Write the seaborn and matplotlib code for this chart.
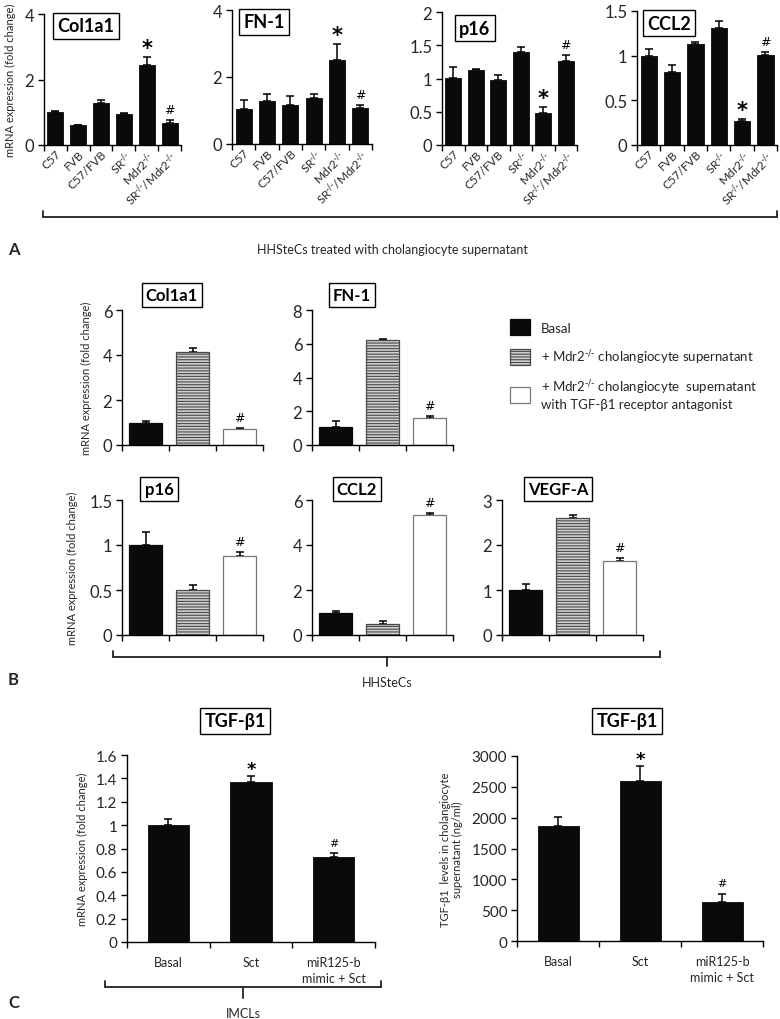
import numpy as np
import pandas as pd
import matplotlib
matplotlib.use("Agg")
import matplotlib.pyplot as plt
import seaborn as sns
from matplotlib.patches import Patch
from matplotlib.lines import Line2D
from matplotlib.ticker import FuncFormatter, MultipleLocator, FixedLocator

# ---------------- data ----------------
KO = r"$^{\text{-/-}}$"
strains = ["C57", "FVB", "C57/FVB", "SR" + KO, "Mdr2" + KO, "SR" + KO + "/Mdr2" + KO]
a_col1a1 = [1.0, 0.60, 1.28, 0.95, 2.45, 0.68]
a_col1a1_err = [0.03, 0.02, 0.08, 0.03, 0.25, 0.08]
a_fn1 = [1.03, 1.27, 1.17, 1.38, 2.52, 1.07]
a_fn1_err = [0.27, 0.22, 0.27, 0.12, 0.48, 0.08]
a_p16 = [1.01, 1.13, 0.97, 1.40, 0.48, 1.26]
a_p16_err = [0.16, 0.02, 0.09, 0.08, 0.09, 0.09]
a_ccl2 = [1.0, 0.82, 1.13, 1.31, 0.27, 1.01]
a_ccl2_err = [0.07, 0.08, 0.02, 0.08, 0.02, 0.03]
a_marks = ["", "", "", "", "*", "#"]

treatments = ["Basal", "+ Mdr2" + KO + " cholangiocyte supernatant",
              "+ Mdr2" + KO + " cholangiocyte  supernatant\nwith TGF-\u03b21 receptor antagonist"]
b_col1a1 = [1.0, 4.12, 0.72]
b_col1a1_err = [0.08, 0.18, 0.02]
b_fn1 = [1.05, 6.20, 1.62]
b_fn1_err = [0.35, 0.08, 0.07]
b_p16 = [1.0, 0.50, 0.88]
b_p16_err = [0.14, 0.06, 0.04]
b_ccl2 = [1.0, 0.50, 5.32]
b_ccl2_err = [0.08, 0.12, 0.10]
b_vegfa = [1.0, 2.60, 1.65]
b_vegfa_err = [0.13, 0.07, 0.07]
b_marks = ["", "", "#"]

c_groups = ["Basal", "Sct", "miR125-b\nmimic + Sct"]
c_mrna = [1.0, 1.37, 0.73]
c_mrna_err = [0.05, 0.05, 0.03]
c_level = [1860, 2600, 640]
c_level_err = [150, 240, 130]
c_marks = ["", "*", "#"]

# ---------------- style ----------------
sns.set_theme(style="ticks")
plt.rcParams["font.family"] = ["Lato", "DejaVu Sans"]
plt.rcParams["mathtext.default"] = "regular"
plt.rcParams["hatch.linewidth"] = 0.8

W, H = 780, 1020
fig = plt.figure(figsize=(W / 100, H / 100), dpi=100)


def rect(x0, y0, x1, y1):
    return [x0 / W, 1 - y1 / H, (x1 - x0) / W, (y1 - y0) / H]


def fx(x):
    return x / W


def fy(y):
    return 1 - y / H


fmt = FuncFormatter(lambda v, p: f"{v:g}")

black = "#0a0a0a"
styles_b = [
    dict(facecolor=black, edgecolor=black, hatch=None),
    dict(facecolor="#cfcfcf", edgecolor="#4a4a4a", hatch="------"),
    dict(facecolor="white", edgecolor="#777777", hatch=None),
]


def panel(box, cats, vals, errs, marks, ylim, ystep, width, styles=None,
          ytick_fs=12, xlabels=True, xrot=0, xfs=8.5, mark_fs=(15, 9)):
    ax = fig.add_axes(rect(*box))
    df = pd.DataFrame({"cat": cats, "val": vals})
    sns.barplot(data=df, x="cat", y="val", color=black, width=width,
                saturation=1, errorbar=None, ax=ax, zorder=2)
    patches = ax.patches[: len(vals)]
    for i, p in enumerate(patches):
        if styles is not None:
            st = styles[i]
            p.set_facecolor(st["facecolor"])
            p.set_edgecolor(st["edgecolor"])
            p.set_linewidth(0.9)
            if st["hatch"]:
                p.set_hatch(st["hatch"])
        else:
            p.set_edgecolor(black)
            p.set_linewidth(0.6)
        cx = p.get_x() + p.get_width() / 2
        ax.errorbar(cx, vals[i], yerr=[[0], [errs[i]]], fmt="none",
                    ecolor="black", elinewidth=1.1, capsize=3, capthick=1.1,
                    zorder=1)
        if marks[i]:
            span = ylim[1] - ylim[0]
            is_star = marks[i] == "*"
            ax.text(cx, vals[i] + errs[i] + span * (-0.01 if is_star else 0.03),
                    marks[i], ha="center", va="bottom",
                    fontsize=mark_fs[0] if is_star else mark_fs[1],
                    color="black",
                    fontweight="bold" if is_star else "normal",
                    family=["DejaVu Sans"])
    n = len(vals)
    ax.set_xlim(-0.5, n - 0.5)
    ax.set_ylim(*ylim)
    ax.yaxis.set_major_locator(MultipleLocator(ystep))
    ax.yaxis.set_major_formatter(fmt)
    ax.xaxis.set_minor_locator(FixedLocator(np.arange(-0.5, n, 1.0)))
    ax.tick_params(axis="x", which="major", length=0, pad=2)
    ax.tick_params(axis="x", which="minor", length=4, width=1, color="black", direction="out")
    ax.tick_params(axis="y", length=4, width=1, color="black", labelsize=ytick_fs, pad=3)
    for s in ("top", "right"):
        ax.spines[s].set_visible(False)
    for s in ("left", "bottom"):
        ax.spines[s].set_color("black")
        ax.spines[s].set_linewidth(1.0)
    ax.set_xlabel("")
    ax.set_ylabel("")
    if xlabels:
        ax.set_xticks(range(n))
        if xrot:
            ax.set_xticklabels(cats, rotation=xrot, ha="right",
                               rotation_mode="anchor", fontsize=xfs)
        else:
            ax.set_xticklabels(cats, fontsize=xfs, linespacing=1.4)
    else:
        ax.set_xticklabels([])
    ax.set_facecolor("white")
    return ax


def title_box(cx, cy, text, fs):
    fig.text(fx(cx), fy(cy), text, ha="center", va="center", fontsize=fs,
             fontweight="bold", color="black",
             bbox=dict(boxstyle="square,pad=0.25", fc="white", ec="black", lw=1.0))


# ---------------- Panel A ----------------
axA1 = panel((44, 15, 181, 146), strains, a_col1a1, a_col1a1_err, a_marks, (0, 4), 2, 0.7,
             xrot=45, xfs=8.5)
axA2 = panel((232, 11, 372, 145), strains, a_fn1, a_fn1_err, a_marks, (0, 4), 2, 0.7,
             xrot=45, xfs=8.5)
axA3 = panel((442, 13, 577, 146), strains, a_p16, a_p16_err, a_marks,
             (0, 2), 0.5, 0.7, xrot=45, xfs=8.5)
axA4 = panel((637, 12, 777, 146), strains, a_ccl2, a_ccl2_err, a_marks,
             (0, 1.5), 0.5, 0.7, xrot=45, xfs=8.5)
axA1.set_ylabel("mRNA expression (fold change)", fontsize=8, labelpad=6)
title_box(86, 27, "Col1a1", 13)
title_box(264, 23, "FN-1", 13)
title_box(475, 29, "p16", 13)
title_box(669, 24, "CCL2", 13)

# bracket A
lw_br = 1.3
fig.add_artist(Line2D([fx(43), fx(777)], [fy(218), fy(218)], color="#222", lw=lw_br))
fig.add_artist(Line2D([fx(43), fx(43)], [fy(218), fy(212)], color="#222", lw=lw_br))
fig.add_artist(Line2D([fx(777), fx(777)], [fy(218), fy(212)], color="#222", lw=lw_br))
fig.text(fx(8), fy(250), "A", fontsize=12, fontweight="bold", va="center", ha="left")
fig.text(fx(392), fy(250), "HHSteCs treated with cholangiocyte supernatant",
         fontsize=9, ha="center", va="center")

# ---------------- Panel B ----------------
axB1 = panel((122, 311, 263, 446), treatments, b_col1a1, b_col1a1_err, b_marks, (0, 6), 2, 0.7,
             styles=styles_b, xlabels=False)
axB2 = panel((312, 311, 453, 446), treatments, b_fn1, b_fn1_err, b_marks, (0, 8), 2, 0.7,
             styles=styles_b, xlabels=False)
axB3 = panel((122, 501, 263, 636), treatments, b_p16, b_p16_err, b_marks, (0, 1.5), 0.5, 0.7,
             styles=styles_b, xlabels=False)
axB4 = panel((312, 501, 453, 636), treatments, b_ccl2, b_ccl2_err, b_marks, (0, 6), 2, 0.7,
             styles=styles_b, xlabels=False)
axB5 = panel((502, 501, 643, 636), treatments, b_vegfa, b_vegfa_err, b_marks, (0, 3), 1, 0.7,
             styles=styles_b, xlabels=False)
axB1.set_ylabel("mRNA expression (fold change)", fontsize=8, labelpad=8)
axB3.set_ylabel("mRNA expression (fold change)", fontsize=8, labelpad=8)
title_box(172, 296, "Col1a1", 12)
title_box(352, 296, "FN-1", 12)
title_box(159, 490, "p16", 12)
title_box(357, 490, "CCL2", 12)
title_box(558, 490, "VEGF-A", 12)

handles = [Patch(facecolor=s["facecolor"], edgecolor=s["edgecolor"],
                 hatch=s["hatch"], lw=0.9) for s in styles_b]
fig.legend(handles, treatments, loc="upper left",
           bbox_to_anchor=(fx(505), fy(315)), frameon=False, fontsize=9.5,
           handlelength=1.5, handleheight=1.5, handletextpad=0.8,
           labelspacing=0.9, borderaxespad=0)

fig.add_artist(Line2D([fx(113), fx(660)], [fy(658), fy(658)], color="#222", lw=lw_br))
fig.add_artist(Line2D([fx(113), fx(113)], [fy(658), fy(652)], color="#222", lw=lw_br))
fig.add_artist(Line2D([fx(660), fx(660)], [fy(658), fy(652)], color="#222", lw=lw_br))
fig.add_artist(Line2D([fx(387), fx(387)], [fy(658), fy(667)], color="#222", lw=lw_br))
fig.text(fx(8), fy(680), "B", fontsize=12, fontweight="bold", va="center", ha="left")
fig.text(fx(387), fy(683), "HHSteCs", fontsize=9, ha="center", va="center")

# ---------------- Panel C ----------------
axC1 = panel((127, 756, 375, 943), c_groups, c_mrna, c_mrna_err, c_marks, (0, 1.6), 0.2, 0.5,
             ytick_fs=11, xfs=9, mark_fs=(13, 8))
axC2 = panel((517, 757, 763, 942), c_groups, c_level, c_level_err, c_marks, (0, 3000), 500, 0.5,
             ytick_fs=11, xfs=9, mark_fs=(13, 8))
axC1.tick_params(axis="x", which="major", pad=10)
axC2.tick_params(axis="x", which="major", pad=10)
axC1.set_ylabel("mRNA expression (fold change)", fontsize=8, labelpad=6)
axC2.set_ylabel("TGF-\u03b21  levels in cholangiocyte\nsupernatant (ng/ml)", fontsize=8, labelpad=6)
title_box(235, 722, "TGF-\u03b21", 13)
title_box(627, 722, "TGF-\u03b21", 13)

fig.add_artist(Line2D([fx(105), fx(381)], [fy(988), fy(988)], color="#222", lw=lw_br))
fig.add_artist(Line2D([fx(105), fx(105)], [fy(988), fy(982)], color="#222", lw=lw_br))
fig.add_artist(Line2D([fx(381), fx(381)], [fy(988), fy(982)], color="#222", lw=lw_br))
fig.add_artist(Line2D([fx(243), fx(243)], [fy(988), fy(999)], color="#222", lw=lw_br))
fig.text(fx(8), fy(1003), "C", fontsize=12, fontweight="bold", va="center", ha="left")
fig.text(fx(243), fy(1014), "IMCLs", fontsize=9, ha="center", va="center")

fig.savefig("out.png", dpi=100, facecolor="white")
